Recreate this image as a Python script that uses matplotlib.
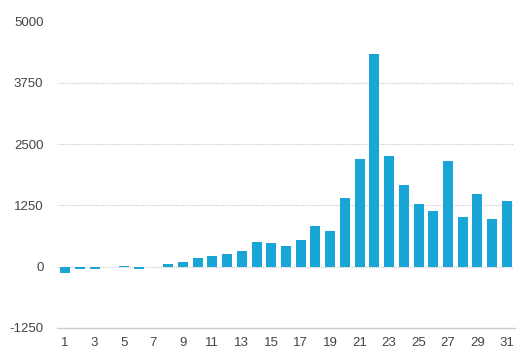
import numpy as np
import matplotlib
matplotlib.use("Agg")
import matplotlib.pyplot as plt

days = list(range(1, 32))
values = [-125, -45, -45, 0, 15, -40, 0, 50, 100, 185, 225, 265, 325, 510,
          490, 430, 550, 835, 735, 1405, 2200, 4340, 2260, 1670, 1285, 1140,
          2160, 1020, 1490, 980, 1345]
y_ticks = [-1250, 0, 1250, 2500, 3750, 5000]
x_ticks = list(range(1, 32, 2))

plt.rcParams['font.family'] = ['Liberation Sans', 'DejaVu Sans']

fig = plt.figure(figsize=(5.28, 3.56), dpi=100)
ax = fig.add_axes([58 / 528, 1 - 328 / 356, (514 - 58) / 528, (328 - 21.5) / 356])

ax.bar(days, values, width=0.68, color="#1AA5D7", zorder=3)

ax.set_xlim(0.52, 31.48)
ax.set_ylim(-1250, 5000)
ax.set_yticks(y_ticks)
ax.set_yticklabels([str(t) for t in y_ticks])
ax.set_xticks(x_ticks)
ax.set_xticklabels([str(t) for t in x_ticks])

for t in y_ticks[1:]:
    ax.axhline(t, color="#c8c8c8", lw=0.8, ls=(0, (1, 1)), zorder=1)

for s in ["top", "right", "left"]:
    ax.spines[s].set_visible(False)
ax.spines["bottom"].set_color("#cccccc")
ax.spines["bottom"].set_linewidth(1.0)
ax.spines["bottom"].set_bounds(0.45, 31.55)

ax.tick_params(axis="both", length=0, labelsize=9.5, colors="#444444")
ax.tick_params(axis="y", pad=10.5)
ax.tick_params(axis="x", pad=6.5)

fig.savefig("out.png", dpi=100, facecolor="white")
